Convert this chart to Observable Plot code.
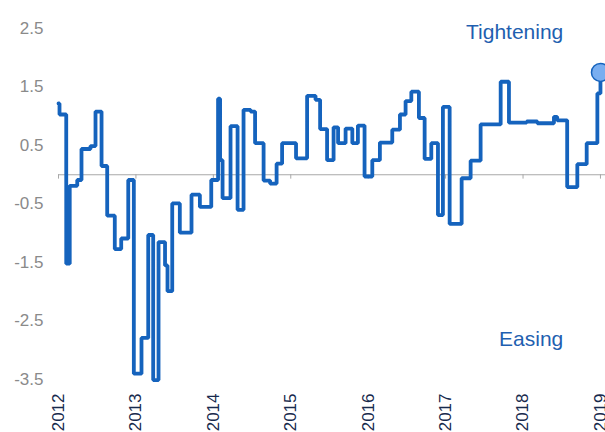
<!DOCTYPE html>
<html>
<head>
<meta charset="utf-8">
<script src="https://cdn.jsdelivr.net/npm/d3@7"></script>
<script src="https://cdn.jsdelivr.net/npm/@observablehq/plot@0.6"></script>
<style>
  html, body { margin: 0; padding: 0; background: #fff; }
  #chart { width: 605px; height: 432px; overflow: hidden; }
</style>
</head>
<body>
<div id="chart"></div>
<script>
// Decimal-year start of each step, and the value held from that point on
const dates = [
  2012.000, 2012.013, 2012.100, 2012.145, 2012.242, 2012.297, 2012.413, 2012.478,
  2012.556, 2012.629, 2012.727, 2012.810, 2012.901, 2012.973, 2013.072, 2013.159,
  2013.223, 2013.292, 2013.376, 2013.408, 2013.469, 2013.567, 2013.718, 2013.826,
  2013.973, 2014.061, 2014.087, 2014.119, 2014.222, 2014.313, 2014.390, 2014.481,
  2014.539, 2014.649, 2014.733, 2014.817, 2014.888, 2015.068, 2015.211, 2015.320,
  2015.379, 2015.469, 2015.553, 2015.611, 2015.708, 2015.795, 2015.867, 2015.953,
  2016.053, 2016.151, 2016.311, 2016.410, 2016.483, 2016.557, 2016.655, 2016.729,
  2016.815, 2016.901, 2016.965, 2017.052, 2017.207, 2017.323, 2017.452, 2017.711,
  2017.818, 2018.047, 2018.185, 2018.399, 2018.441, 2018.570, 2018.701, 2018.822,
  2018.960, 2019.000
];
const values = [
  1.22, 1.03, -1.52, -0.19, -0.09, 0.44, 0.49, 1.08,
  0.15, -0.70, -1.27, -1.09, -0.09, -3.40, -2.79, -1.03,
  -3.51, -1.15, -1.55, -1.99, -0.49, -0.99, -0.34, -0.55,
  -0.09, 1.30, 0.25, -0.40, 0.83, -0.60, 1.11, 1.08,
  0.54, -0.10, -0.15, 0.19, 0.54, 0.28, 1.35, 1.28,
  0.78, 0.25, 0.81, 0.54, 0.79, 0.54, 0.84, -0.03,
  0.25, 0.55, 0.77, 1.03, 1.26, 1.42, 0.97, 0.27,
  0.54, -0.69, 1.16, -0.84, -0.06, 0.24, 0.86, 1.59,
  0.89, 0.91, 0.88, 0.99, 0.93, -0.21, 0.18, 0.54,
  1.39, 1.75
];
const yearTicks = [2012, 2013, 2014, 2015, 2016, 2017, 2018, 2019];
const yTicks = [-3.5, -2.5, -1.5, -0.5, 0.5, 1.5, 2.5];
const labels = ["Tightening", "Easing"];
const labelX = [2018.52, 2018.52];
const labelY = [2.44, -2.82];

const data = dates.map((t, i) => ({t, v: values[i]}));
const last = [data[data.length - 1]];
const ann = labels.map((s, i) => ({s, x: labelX[i], y: labelY[i]}));

const lineColor = "#1563bd";

const chart = Plot.plot({
  width: 605,
  height: 432,
  marginTop: 28,
  marginBottom: 53,
  marginLeft: 58,
  marginRight: 0,
  style: {fontFamily: "'Liberation Sans', Arial, sans-serif", background: "#fff", overflow: "hidden"},
  x: {type: "linear", domain: [2012, 2019.065]},
  y: {domain: [-3.5, 2.5]},
  marks: [
    Plot.ruleY([0], {stroke: "#a8a8a8", strokeWidth: 1}),
    Plot.ruleX(yearTicks, {y1: 0, y2: -0.075, stroke: "#a8a8a8", strokeWidth: 1}),
    Plot.line(data, {x: "t", y: "v", curve: "step-after", stroke: lineColor, strokeWidth: 3.8, strokeLinejoin: "miter"}),
    Plot.dot(last, {x: "t", y: "v", r: 9, fill: "#79aef0", stroke: lineColor, strokeWidth: 1.5}),
    Plot.text(ann, {x: "x", y: "y", text: "s", textAnchor: "end", fontSize: 21, fill: "#1f5fb0"}),
    Plot.axisY(yTicks, {tickSize: 0, tickPadding: 15, fontSize: 17, color: "#8a8a8a", tickFormat: d => d.toFixed(1)}),
    Plot.axisX(yearTicks, {tickSize: 0, tickPadding: 14, tickRotate: -90, fontSize: 17, color: "#172a4d", tickFormat: d => String(d)})
  ]
});
document.getElementById("chart").appendChild(chart);
</script>
</body>
</html>
